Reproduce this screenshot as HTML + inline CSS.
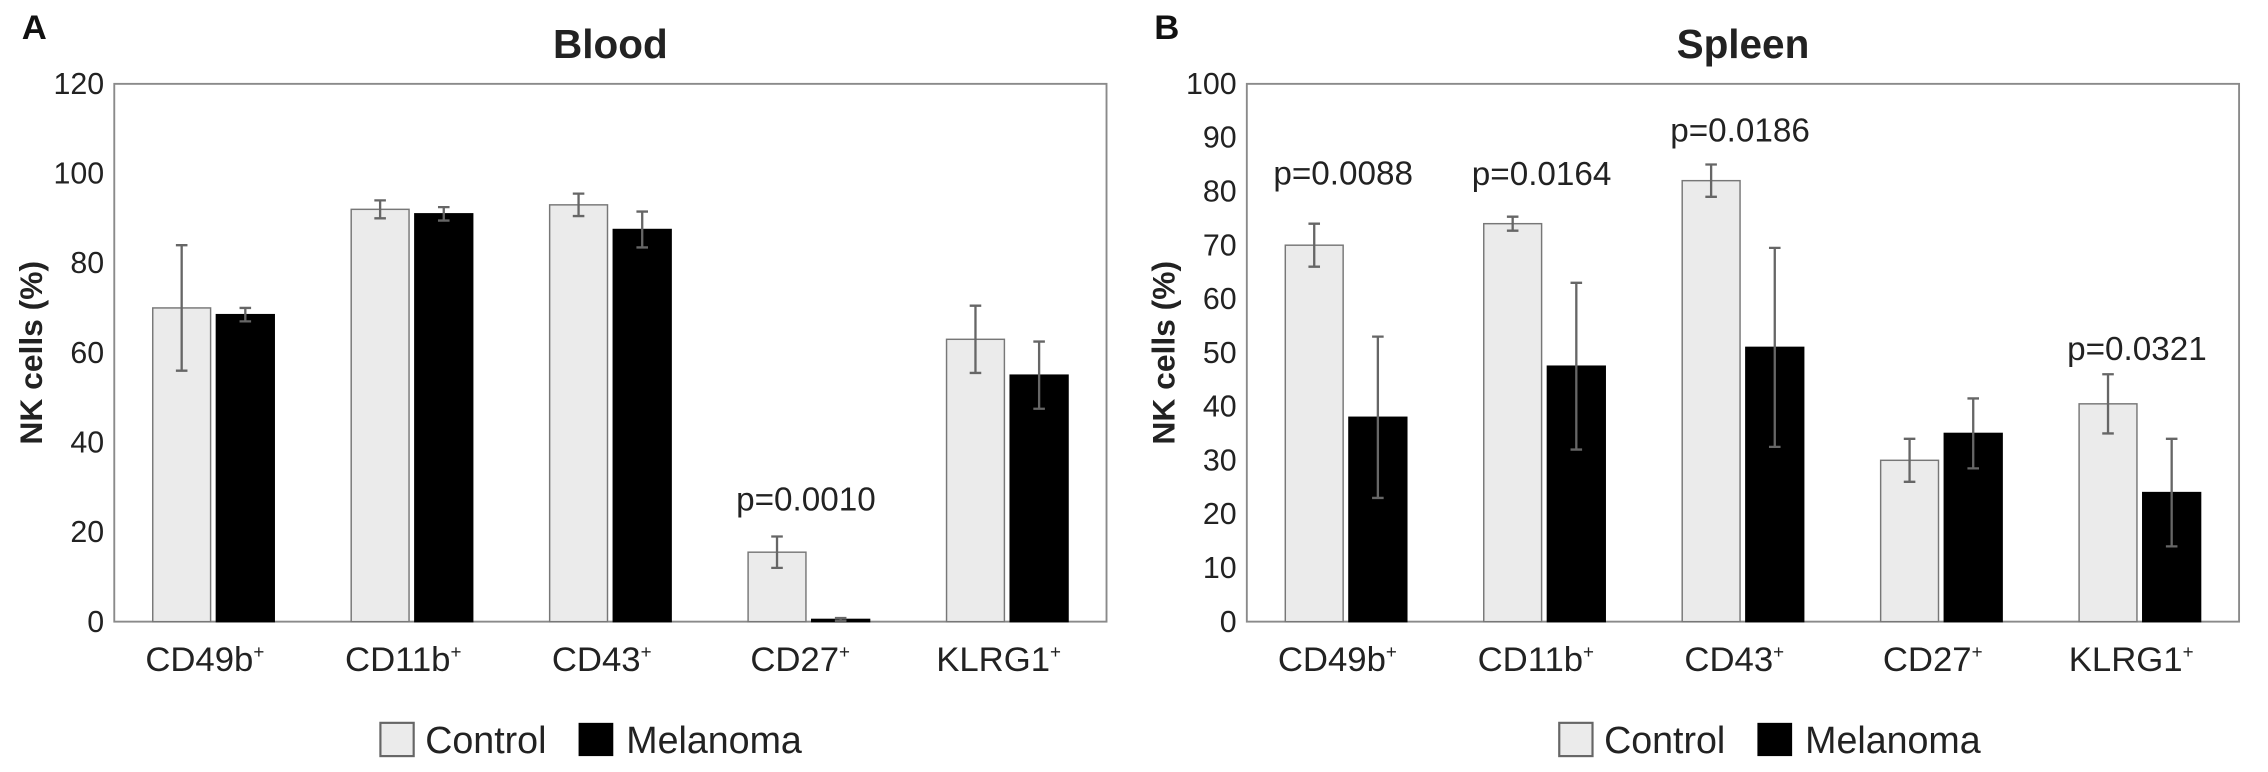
<!DOCTYPE html>
<html><head><meta charset="utf-8"><style>
html,body{margin:0;padding:0;background:#fff;}
svg{display:block;font-family:"Liberation Sans",sans-serif;}
</style></head><body>
<svg id="fig" width="2268" height="772" viewBox="0 0 1568 534" preserveAspectRatio="none" xmlns="http://www.w3.org/2000/svg"></svg>
<script>
const categories = ["CD49b", "CD11b", "CD43", "CD27", "KLRG1"];
const bloodControl = [70, 92, 93, 15.5, 63];
const bloodControlErr = [14, 2, 2.5, 3.5, 7.5];
const bloodMelanoma = [68.5, 91, 87.5, 0.5, 55];
const bloodMelanomaErr = [1.5, 1.5, 4, 0.3, 7.5];
const bloodTicks = [0, 20, 40, 60, 80, 100, 120];
const bloodPvals = ["", "", "", "p=0.0010", ""];
const spleenControl = [70, 74, 82, 30, 40.5];
const spleenControlErr = [4, 1.3, 3, 4, 5.5];
const spleenMelanoma = [38, 47.5, 51, 35, 24];
const spleenMelanomaErr = [15, 15.5, 18.5, 6.5, 10];
const spleenTicks = [0, 10, 20, 30, 40, 50, 60, 70, 80, 90, 100];
const spleenPvals = ["p=0.0088", "p=0.0164", "p=0.0186", "", "p=0.0321"];

const NS = "http://www.w3.org/2000/svg";
const svg = document.getElementById("fig");
function mk(tag, attrs, parent, text) {
  const e = document.createElementNS(NS, tag);
  for (const k in attrs) e.setAttribute(k, attrs[k]);
  if (text !== undefined) e.textContent = text;
  (parent || svg).appendChild(e);
  return e;
}

function panel(o) {
  const g = mk("g", {});
  
  
  const L = o.left, R = o.left + 686, T = 58, B = 430;
  const yMax = o.ticks[o.ticks.length - 1];
  const y = v => B - (v / yMax) * (B - T);
  const groupW = (R - L) / categories.length;
  const xc = i => L + groupW * (i + 0.5);
  const bw = 40, gap = 4;

  const letter = mk("text", {x: o.left - 64, y: 27, "font-size": 24, "font-weight": "bold", fill: "#111"}, g, o.letter);
  
  
  const title = mk("text", {x: L + 343, y: 40, "font-size": 28, "font-weight": "bold", "text-anchor": "middle", fill: "#222"}, g, o.title);
  
  

  const frame = mk("rect", {x: L, y: T, width: R - L, height: B - T, fill: "none", stroke: "#8a8a8a", "stroke-width": 1.3}, g);
  
  

  o.ticks.forEach(t => {
    const tl = mk("text", {x: L - 7, y: y(t) + 7, "font-size": 21, "text-anchor": "end", fill: "#222"}, g, String(t));
    
    
  });
  const yl = mk("text", {x: 0, y: 0, "font-size": 22, "font-weight": "bold", "text-anchor": "middle", fill: "#222",
    transform: `translate(${L - 50},${(T + B) / 2}) rotate(-90)`}, g, "NK cells (%)");
  
  

  categories.forEach((c, i) => {
    const series = [[o.ctrl[i], o.ctrlErr[i], "#ebebeb", "#777", -1], [o.mel[i], o.melErr[i], "#000", "#000", 1]];
    series.forEach(([v, e, fill, st, side], si) => {
      const x0 = side < 0 ? xc(i) - gap / 2 - bw : xc(i) + gap / 2;
      const bar = mk("rect", {x: x0, y: y(v), width: bw, height: B - y(v), fill: fill, stroke: st, "stroke-width": 1}, g);
      
      
      const cx = x0 + bw / 2;
      const eb = mk("path", {d: `M${cx},${y(v - e)}V${y(v + e)}M${cx - 4},${y(v - e)}H${cx + 4}M${cx - 4},${y(v + e)}H${cx + 4}`,
        stroke: "#666", "stroke-width": 1.6, fill: "none"}, g);
      
      
    });
    const cl = mk("text", {x: xc(i) - 6, y: 464, "font-size": 24, "text-anchor": "middle", fill: "#222"}, g);
    
    
    mk("tspan", {}, cl, c);
    mk("tspan", {dy: -9, "font-size": 13}, cl, "+");
    if (o.pv[i]) {
      const top = Math.max(o.ctrl[i] + o.ctrlErr[i], o.mel[i] + o.melErr[i]);
      const pl = mk("text", {x: xc(i) - 2, y: y(top) - o.pOff[i], "font-size": 23, "text-anchor": "middle", fill: "#222"}, g, o.pv[i]);
      
      
    }
  });

  const lg = mk("g", {}, g);
  
  
  const lx = o.legendX;
  const s1 = mk("rect", {x: lx, y: 500, width: 23, height: 23, fill: "#ebebeb", stroke: "#666", "stroke-width": 1.5}, lg);
  
  
  const t1 = mk("text", {x: lx + 31, y: 521, "font-size": 26, fill: "#222"}, lg, "Control");
  
  
  const s2 = mk("rect", {x: lx + 137, y: 500, width: 24, height: 23, fill: "#000"}, lg);
  
  
  const t2 = mk("text", {x: lx + 170, y: 521, "font-size": 26, fill: "#222"}, lg, "Melanoma");
  
  
}

panel({name: "blood", letter: "A", title: "Blood", left: 79, ticks: bloodTicks,
  ctrl: bloodControl, ctrlErr: bloodControlErr, mel: bloodMelanoma, melErr: bloodMelanomaErr,
  pv: bloodPvals, pOff: [0, 0, 0, 18, 0], legendX: 263});
panel({name: "spleen", letter: "B", title: "Spleen", left: 862, ticks: spleenTicks,
  ctrl: spleenControl, ctrlErr: spleenControlErr, mel: spleenMelanoma, melErr: spleenMelanomaErr,
  pv: spleenPvals, pOff: [27, 22, 16, 0, 10], legendX: 1078});
</script>
</body></html>
